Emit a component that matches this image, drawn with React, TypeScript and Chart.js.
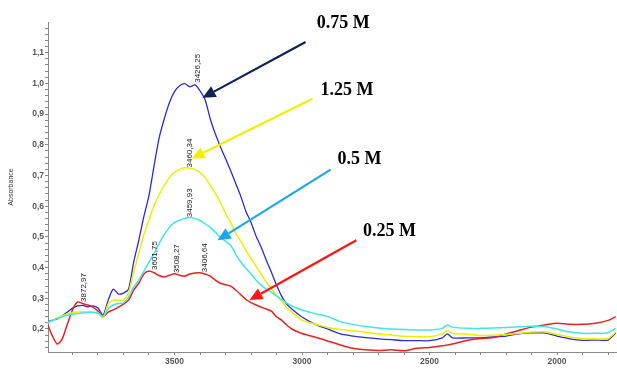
import { useEffect, useRef } from 'react';
import { Chart, registerables } from 'chart.js';

Chart.register(...registerables);

const wavenumbers = [
  4000, 3980, 3960, 3940, 3920, 3900, 3880, 3860, 3840, 3820, 3800, 3780, 3760, 3740, 3720, 3700,
  3680, 3660, 3640, 3620, 3600, 3580, 3560, 3540, 3520, 3500, 3480, 3460, 3440, 3420, 3400, 3380,
  3360, 3340, 3320, 3300, 3280, 3260, 3240, 3220, 3200, 3180, 3160, 3140, 3120, 3100, 3080, 3060,
  3040, 3000, 2950, 2900, 2850, 2800, 2750, 2700, 2650, 2600, 2550, 2500, 2450, 2430, 2410, 2350,
  2300, 2250, 2200, 2150, 2100, 2050, 2000, 1950, 1900, 1850, 1800, 1770,
];

const absorbance075 = [
  0.223, 0.228, 0.233, 0.243, 0.255, 0.268, 0.275, 0.277, 0.272, 0.275, 0.268, 0.245, 0.294, 0.33, 0.314, 0.317,
  0.33, 0.418, 0.489, 0.567, 0.635, 0.732, 0.823, 0.885, 0.937, 0.973, 0.992, 0.999, 0.989, 0.995, 0.976, 0.947,
  0.885, 0.836, 0.794, 0.755, 0.716, 0.674, 0.632, 0.583, 0.547, 0.502, 0.466, 0.424, 0.385, 0.343, 0.307, 0.281,
  0.265, 0.239, 0.216, 0.2, 0.184, 0.177, 0.172, 0.168, 0.165, 0.162, 0.162, 0.162, 0.171, 0.184, 0.171, 0.171,
  0.171, 0.174, 0.177, 0.184, 0.187, 0.187, 0.177, 0.168, 0.163, 0.164, 0.164, 0.187,
];

const absorbance125 = [
  0.219, 0.227, 0.236, 0.243, 0.249, 0.253, 0.255, 0.256, 0.256, 0.255, 0.252, 0.236, 0.281, 0.294, 0.294, 0.294,
  0.32, 0.385, 0.447, 0.508, 0.554, 0.603, 0.638, 0.668, 0.693, 0.71, 0.72, 0.725, 0.724, 0.72, 0.71, 0.693,
  0.668, 0.642, 0.612, 0.577, 0.547, 0.512, 0.486, 0.456, 0.43, 0.405, 0.379, 0.353, 0.33, 0.31, 0.291, 0.271,
  0.255, 0.229, 0.216, 0.205, 0.198, 0.194, 0.189, 0.184, 0.18, 0.176, 0.175, 0.175, 0.184, 0.195, 0.186, 0.183,
  0.179, 0.18, 0.182, 0.186, 0.19, 0.191, 0.182, 0.174, 0.169, 0.168, 0.169, 0.19,
];

const absorbance05 = [
  0.22, 0.227, 0.234, 0.24, 0.245, 0.248, 0.25, 0.252, 0.254, 0.254, 0.252, 0.241, 0.265, 0.278, 0.283, 0.285,
  0.304, 0.336, 0.359, 0.388, 0.418, 0.447, 0.479, 0.508, 0.531, 0.547, 0.554, 0.56, 0.563, 0.56, 0.554, 0.543,
  0.531, 0.515, 0.499, 0.486, 0.473, 0.444, 0.418, 0.398, 0.379, 0.359, 0.343, 0.33, 0.32, 0.307, 0.296, 0.284,
  0.275, 0.262, 0.25, 0.241, 0.224, 0.215, 0.208, 0.203, 0.2, 0.198, 0.197, 0.197, 0.202, 0.213, 0.206, 0.202,
  0.202, 0.203, 0.205, 0.207, 0.209, 0.208, 0.2, 0.19, 0.186, 0.186, 0.188, 0.202,
];

const absorbance025 = [
  0.219, 0.18, 0.151, 0.168, 0.216, 0.262, 0.288, 0.283, 0.278, 0.271, 0.258, 0.241, 0.255, 0.262, 0.271, 0.281,
  0.294, 0.327, 0.349, 0.379, 0.389, 0.383, 0.374, 0.369, 0.375, 0.38, 0.375, 0.372, 0.379, 0.382, 0.383, 0.379,
  0.372, 0.359, 0.349, 0.344, 0.34, 0.327, 0.312, 0.296, 0.286, 0.278, 0.271, 0.265, 0.258, 0.24, 0.229, 0.213,
  0.2, 0.185, 0.174, 0.161, 0.148, 0.137, 0.132, 0.13, 0.132, 0.129, 0.137, 0.14, 0.145, 0.148, 0.151, 0.163,
  0.169, 0.172, 0.184, 0.195, 0.206, 0.213, 0.219, 0.215, 0.215, 0.219, 0.228, 0.24,
];

const seriesNames = ['0.75 M', '1.25 M', '0.5 M', '0.25 M'];
const seriesColors = ['#2b2bd9', '#eeee00', '#3fe6e6', '#ec2020'];

const xMajorTicks = [2000, 2500, 3000, 3500];
const xTickLabels = ['2000', '2500', '3000', '3500'];
const yMajorTicks = [0.2, 0.3, 0.4, 0.5, 0.6, 0.7, 0.8, 0.9, 1.0, 1.1];
const yTickLabels = ['0,2', '0,3', '0,4', '0,5', '0,6', '0,7', '0,8', '0,9', '1,0', '1,1'];

// Concentration call-outs (label centre + arrow start/tip, in data units)
const calloutLabels = ['0.75 M', '1.25 M', '0.5 M', '0.25 M'];
const calloutLabelX = [2838, 2824, 2775, 2657];
const calloutLabelY = [1.197, 0.976, 0.752, 0.518];
const arrowStartX = [2986, 2959, 2888, 2787];
const arrowStartY = [1.135, 0.95, 0.719, 0.489];
const arrowTipX = [3390, 3433, 3331, 3206];
const arrowTipY = [0.953, 0.755, 0.489, 0.294];
const arrowColors = ['#10205a', '#f3ee00', '#1ea6ea', '#ff1414'];

// Peak annotations (rotated), anchored at their lower end
const peakLabels = ['3872,97', '3601,75', '3508,27', '3406,64', '3426,25', '3460,34', '3459,93'];
const peakLabelX = [3857, 3578, 3490, 3382, 3408, 3441, 3441];
const peakLabelY = [0.288, 0.392, 0.382, 0.385, 1.002, 0.726, 0.564];

const xMin = 1765;
const xMax = 3996;
const yMin = 0.125;
const yMax = 1.2;

function drawArrow(ctx: CanvasRenderingContext2D, x1: number, y1: number, x2: number, y2: number, color: string) {
  const ang = Math.atan2(y2 - y1, x2 - x1);
  const head = 13;
  const half = 6;
  const bx = x2 - head * Math.cos(ang);
  const by = y2 - head * Math.sin(ang);
  ctx.strokeStyle = color;
  ctx.lineWidth = 2.2;
  ctx.beginPath();
  ctx.moveTo(x1, y1);
  ctx.lineTo(bx, by);
  ctx.stroke();
  ctx.fillStyle = color;
  ctx.beginPath();
  ctx.moveTo(x2, y2);
  ctx.lineTo(bx + half * Math.sin(ang), by - half * Math.cos(ang));
  ctx.lineTo(bx - half * Math.sin(ang), by + half * Math.cos(ang));
  ctx.closePath();
  ctx.fill();
}

const overlayPlugin = {
  id: 'overlay',
  afterDatasetsDraw(chart: any) {
    const { ctx } = chart;
    const xs = chart.scales.x;
    const ys = chart.scales.y;
    ctx.save();

    // peak labels
    ctx.font = '8px "Liberation Sans", Arial, sans-serif';
    ctx.fillStyle = '#222';
    ctx.textAlign = 'left';
    ctx.textBaseline = 'middle';
    peakLabels.forEach((t, i) => {
      ctx.save();
      ctx.translate(xs.getPixelForValue(peakLabelX[i]), ys.getPixelForValue(peakLabelY[i]));
      ctx.rotate(-Math.PI / 2);
      ctx.fillText(t, 0, 0);
      ctx.restore();
    });

    // arrows
    calloutLabels.forEach((_, i) => {
      drawArrow(
        ctx,
        xs.getPixelForValue(arrowStartX[i]),
        ys.getPixelForValue(arrowStartY[i]),
        xs.getPixelForValue(arrowTipX[i]),
        ys.getPixelForValue(arrowTipY[i]),
        arrowColors[i]
      );
    });

    // callout labels
    ctx.font = 'bold 18px "Liberation Serif", "Times New Roman", serif';
    ctx.fillStyle = '#000';
    ctx.textAlign = 'center';
    ctx.textBaseline = 'middle';
    calloutLabels.forEach((t, i) => {
      ctx.fillText(t, xs.getPixelForValue(calloutLabelX[i]), ys.getPixelForValue(calloutLabelY[i]));
    });

    // x axis title with superscript
    const main = 'Wavenumber (cm';
    const sup = '-1';
    const close = ')';
    const fMain = 'bold 12px "Liberation Serif", "Times New Roman", serif';
    const fSup = 'bold 8px "Liberation Serif", "Times New Roman", serif';
    ctx.font = fMain;
    const wMain = ctx.measureText(main).width;
    const wClose = ctx.measureText(close).width;
    ctx.font = fSup;
    const wSup = ctx.measureText(sup).width;
    const total = wMain + wSup + wClose;
    const cx = xs.getPixelForValue(2915);
    const ty = xs.bottom + 17;
    let sx = cx - total / 2;
    ctx.textAlign = 'left';
    ctx.textBaseline = 'middle';
    ctx.fillStyle = '#111';
    ctx.font = fMain;
    ctx.fillText(main, sx, ty);
    sx += wMain;
    ctx.font = fSup;
    ctx.fillText(sup, sx, ty - 4);
    sx += wSup;
    ctx.font = fMain;
    ctx.fillText(close, sx, ty);

    ctx.restore();
  },
};

function buildSeries(values: number[]) {
  return wavenumbers.map((w, i) => ({ x: w, y: values[i] }));
}

export default function App() {
  const canvasRef = useRef<HTMLCanvasElement | null>(null);

  useEffect(() => {
    if (!canvasRef.current) return;
    const xMinor: number[] = [];
    for (let v = 1800; v <= 3900; v += 100) xMinor.push(v);
    const yMinor: number[] = [];
    for (let k = 7; k <= 59; k++) yMinor.push(Math.round(k * 2) / 100);

    const allValues = [absorbance075, absorbance125, absorbance05, absorbance025];
    const order = [2, 1, 3, 0];
    const datasets = order.map((idx) => ({
      label: seriesNames[idx],
      data: buildSeries(allValues[idx]),
      borderColor: seriesColors[idx],
      backgroundColor: seriesColors[idx],
      borderWidth: idx === 0 ? 1.3 : 1.5,
      pointRadius: 0,
      tension: 0.25,
      fill: false,
    }));

    const chart = new Chart(canvasRef.current, {
      type: 'line',
      data: { datasets },
      plugins: [overlayPlugin],
      options: {
        animation: false,
        responsive: false,
        maintainAspectRatio: false,
        parsing: true,
        layout: { padding: { top: 22, left: 0, right: 0, bottom: 0 } },
        plugins: { legend: { display: false }, tooltip: { enabled: false } },
        scales: {
          x: {
            type: 'linear',
            reverse: true,
            min: xMin,
            max: xMax,
            afterBuildTicks: (axis: any) => {
              axis.ticks = xMinor.map((v) => ({ value: v }));
            },
            afterFit: (axis: any) => {
              axis.height = 25;
            },
            ticks: {
              autoSkip: false,
              maxRotation: 0,
              padding: 2,
              color: '#555',
              font: { size: 8.5, weight: 'bold', family: '"Liberation Sans", Arial, sans-serif' },
              callback: (v: any) => {
                const i = xMajorTicks.indexOf(Number(v));
                return i >= 0 ? xTickLabels[i] : '';
              },
            },
            grid: { display: true, drawOnChartArea: false, drawTicks: true, tickLength: 3, color: '#8a8a8a' },
            border: { display: true, color: '#8a8a8a' },
          },
          y: {
            type: 'linear',
            min: yMin,
            max: yMax,
            afterBuildTicks: (axis: any) => {
              axis.ticks = yMinor.map((v) => ({ value: v }));
            },
            afterFit: (axis: any) => {
              axis.width = 48;
            },
            ticks: {
              autoSkip: false,
              padding: 1,
              color: '#555',
              font: { size: 8.5, weight: 'bold', family: '"Liberation Sans", Arial, sans-serif' },
              callback: (v: any) => {
                const i = yMajorTicks.findIndex((m) => Math.abs(m - Number(v)) < 1e-6);
                return i >= 0 ? yTickLabels[i] : '';
              },
            },
            grid: { display: true, drawOnChartArea: false, drawTicks: true, tickLength: 3, color: '#8a8a8a' },
            border: { display: true, color: '#8a8a8a' },
            title: {
              display: true,
              text: 'Absorbance',
              color: '#333',
              font: { size: 7, family: '"Liberation Sans", Arial, sans-serif' },
              padding: { top: 7, bottom: 0 },
            },
          },
        },
      } as any,
    });
    return () => chart.destroy();
  }, []);

  return (
    <div style={{ position: 'absolute', left: 0, top: 0, width: 617, height: 377, background: '#fff' }}>
      <canvas ref={canvasRef} width={617} height={377} />
    </div>
  );
}
